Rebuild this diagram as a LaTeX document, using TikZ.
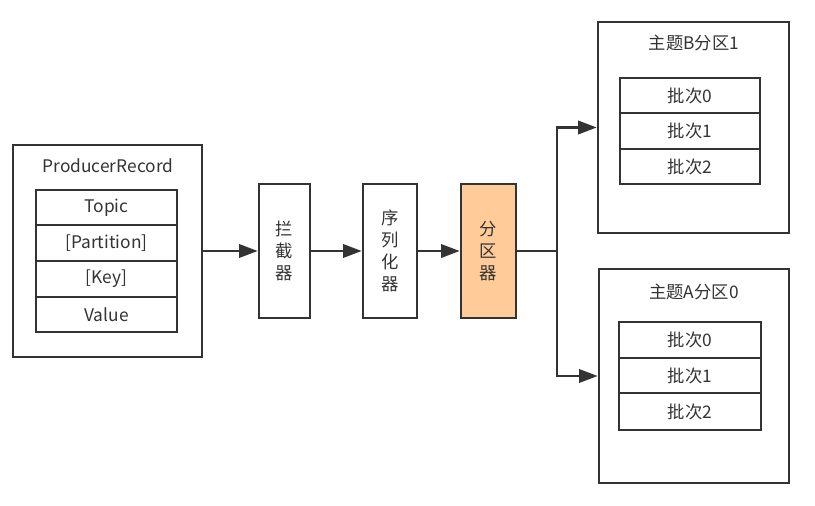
\documentclass[tikz,border=0pt]{standalone}
\usepackage{fontspec}
\setmainfont{Noto Sans CJK SC}
\usetikzlibrary{fit,arrows.meta}
\definecolor{ln}{HTML}{333333}
\definecolor{tx}{HTML}{333333}
\definecolor{peach}{HTML}{FFCC99}
\begin{document}
\begin{tikzpicture}[x=0.75pt,y=-0.75pt,
  box/.style={draw=ln,line width=1.9pt,inner sep=0pt},
  txt/.style={text=tx,font=\fontsize{13}{16.5}\selectfont,inner sep=0pt,align=center},
  arr/.style={draw=ln,line width=1.9pt,-{Triangle[length=14pt,width=10pt]}}]
\useasboundingbox (0,0) rectangle (815,506);
% ProducerRecord
\node[box,fit={(13,145) (202,357)}] (pr) {};
\node[txt] (prt) at (108,166) {ProducerRecord};
\node[box,fit={(36,190) (177,225)},label={[txt]center:Topic}] (r1) {};
\node[box,fit={(36,225) (177,261)},label={[txt]center:[Partition]}] (r2) {};
\node[box,fit={(36,261) (177,297)},label={[txt]center:[Key]}] (r3) {};
\node[box,fit={(36,297) (177,332)},label={[txt]center:Value}] (r4) {};
% pipeline
\node[box,fit={(259,184) (310,318)},label={[txt]center:拦\\截\\器}] (ic) {};
\node[box,fit={(363,184) (417,318)},label={[txt]center:序\\列\\化\\器}] (se) {};
\node[box,fit={(461,184) (516,318)},fill=peach,label={[txt]center:分\\区\\器}] (pt) {};
% topic B
\node[box,fit={(598,22) (789,233)}] (tb) {};
\node[txt] (tbt) at (694,43) {主题B分区1};
\node[box,fit={(620,78) (760,113)},label={[txt]center:批次0}] (b0) {};
\node[box,fit={(620,113) (760,149)},label={[txt]center:批次1}] (b1) {};
\node[box,fit={(620,149) (760,184)},label={[txt]center:批次2}] (b2) {};
% topic A
\node[box,fit={(599,269) (789,483)}] (ta) {};
\node[txt] (tat) at (694,292) {主题A分区0};
\node[box,fit={(619,322) (761,358)},label={[txt]center:批次0}] (a0) {};
\node[box,fit={(619,358) (761,393)},label={[txt]center:批次1}] (a1) {};
\node[box,fit={(619,393) (761,430)},label={[txt]center:批次2}] (a2) {};
% connectors
\coordinate (j) at (557,251);
\draw[arr] (pr.east) -- (ic.west);
\draw[arr] (ic.east) -- (se.west);
\draw[arr] (se.east) -- (pt.west);
\draw[arr] (pt.east) -- (j) |- (tb.west);
\draw[arr] (j) |- (ta.west);
\end{tikzpicture}
\end{document}
